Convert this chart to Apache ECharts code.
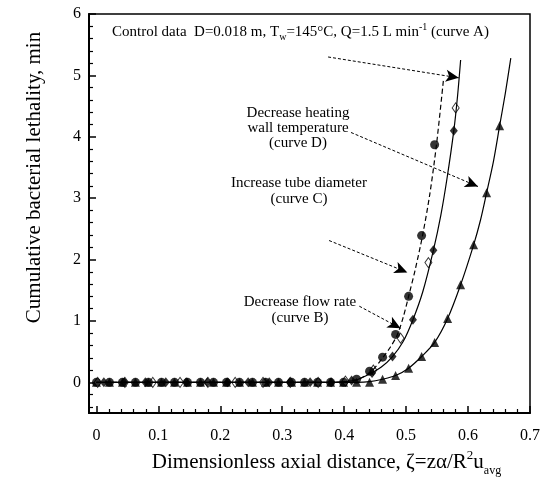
<!DOCTYPE html>
<html><head><meta charset="utf-8">
<script src="https://cdn.jsdelivr.net/npm/echarts@6/dist/echarts.min.js"></script>
<style>html,body{margin:0;padding:0;background:#fff}#c{width:540px;height:491px}</style>
</head><body><div id="c"></div>
<script>
// ---- tick values ----
const xTickLabels = [0, 0.1, 0.2, 0.3, 0.4, 0.5, 0.6, 0.7];
const xMinorTicks = [0.02,0.04,0.06,0.08,0.12,0.14,0.16,0.18,0.22,0.24,0.26,0.28,0.32,0.34,0.36,0.38,0.42,0.44,0.46,0.48,0.52,0.54,0.56,0.58,0.62,0.64,0.66,0.68];
const yTickLabels = [0, 1, 2, 3, 4, 5, 6];
const yMinorTicks = [-0.4,-0.2,0.2,0.4,0.6,0.8,1.2,1.4,1.6,1.8,2.2,2.4,2.6,2.8,3.2,3.4,3.6,3.8,4.2,4.4,4.6,4.8,5.2,5.4,5.6,5.8];

// ---- measured points ----
// curve A: control data (filled diamonds)
const curveAx = [0.012,0.045,0.079,0.112,0.145,0.179,0.212,0.245,0.279,0.312,0.345,0.379,0.412,0.445,0.478,0.511,0.544,0.577];
const curveAy = [0,0,0,0,0,0,0,0,0,0,0,0,0.03,0.15,0.42,1.02,2.15,4.10];
// curve B: decrease flow rate (open diamonds)
const curveBx = [0.002,0.046,0.091,0.135,0.18,0.224,0.269,0.313,0.358,0.402,0.447,0.491,0.536,0.58];
const curveBy = [0,0,0,0,0,0,0,0,0,0.02,0.2,0.72,1.95,4.47];
// curve C: increase tube diameter (filled circles)
const curveCx = [0,0.021,0.042,0.063,0.084,0.105,0.126,0.147,0.168,0.189,0.21,0.231,0.252,0.273,0.294,0.315,0.336,0.357,0.378,0.399,0.42,0.441,0.462,0.483,0.504,0.525,0.546];
const curveCy = [0,0,0,0,0,0,0,0,0,0,0,0,0,0,0,0,0,0,0,0,0.05,0.18,0.41,0.78,1.40,2.39,3.87];
// curve D: decrease heating wall temperature (filled triangles)
const curveDx = [0,0.021,0.042,0.063,0.084,0.105,0.126,0.147,0.168,0.189,0.21,0.231,0.252,0.273,0.294,0.315,0.336,0.357,0.378,0.399,0.42,0.441,0.462,0.483,0.504,0.525,0.546,0.567,0.588,0.609,0.63,0.651];
const curveDy = [0,0,0,0,0,0,0,0,0,0,0,0,0,0,0,0,0,0,0,0,0,0.0,0.05,0.11,0.23,0.42,0.65,1.04,1.59,2.24,3.09,4.18];

// ---- fitted curves ----
const fitAx = [0,0.38,0.40,0.42,0.44,0.46,0.478,0.495,0.511,0.527,0.544,0.556,0.566,0.577,0.583,0.588];
const fitAy = [0,0,0.01,0.04,0.13,0.25,0.42,0.66,1.02,1.48,2.15,2.72,3.32,4.10,4.66,5.25];
const fitCx = [0,0.39,0.405,0.423,0.444,0.463,0.475,0.486,0.495,0.504,0.515,0.5265,0.538,0.549,0.5606];
const fitCy = [0,0,0.01,0.05,0.18,0.41,0.58,0.78,1.05,1.40,1.85,2.39,3.05,3.87,4.96];
const fitDx = [0,0.42,0.441,0.462,0.483,0.504,0.525,0.546,0.567,0.588,0.609,0.62,0.63,0.641,0.651,0.66,0.669];
const fitDy = [0,0,0.01,0.05,0.11,0.23,0.42,0.65,1.04,1.59,2.24,2.64,3.09,3.6,4.18,4.7,5.28];

// ---- annotation arrows (start -> tip, data coords) ----
const arrowA = [[0.374,5.30],[0.585,4.96]];
const arrowD = [[0.411,4.07],[0.616,3.19]];
const arrowC = [[0.3756,2.31],[0.502,1.79]];
const arrowB = [[0.4244,1.24],[0.491,0.88]];

const zip = (xs, ys) => xs.map((x, i) => [x, ys[i]]);
const FONT = "'Liberation Serif','Times New Roman',serif";

const chart = echarts.init(document.getElementById('c'), null, {renderer: 'canvas'});

const baseX = {type: 'value', min: -0.012, max: 0.7, position: 'bottom', splitLine: {show: false}};
const baseY = {type: 'value', min: -0.5, max: 6, position: 'left', splitLine: {show: false}};

const arrowLine = (a) => [{coord: a[0], symbol: 'none'}, {coord: a[1], symbol: 'arrow'}];

chart.setOption({
  animation: false,
  backgroundColor: '#fff',
  grid: {left: 89, right: 10, top: 14, bottom: 78, show: true, borderColor: '#000', borderWidth: 1.5, outerBoundsMode: 'none'},
  xAxis: [
    Object.assign({}, baseX, {
      axisLine: {show: true, onZero: false, lineStyle: {color: '#000', width: 2}},
      axisTick: {show: true, inside: true, length: 7, customValues: xTickLabels, lineStyle: {color: '#000', width: 1.5}},
      axisLabel: {show: true, customValues: xTickLabels, margin: 15, color: '#000', fontSize: 16, fontFamily: FONT,
        formatter: v => v === 0 ? '0' : v.toFixed(1)},
      name: 'Dimensionless axial distance, ζ=zα/R{sup|2}u{sub|avg}',
      nameLocation: 'middle', nameGap: 35,
      nameTextStyle: {color: '#000', fontSize: 21, fontFamily: FONT, padding: [0, 0, 0, 34],
        rich: {sup: {fontSize: 13, fontFamily: FONT, color: '#000', padding: [0, 0, 14, 0]},
               sub: {fontSize: 12, fontFamily: FONT, color: '#000', padding: [16, 0, 0, 0]}}}
    }),
    Object.assign({}, baseX, {
      axisLine: {show: false, onZero: false},
      axisTick: {show: true, inside: true, length: 4, customValues: xMinorTicks, lineStyle: {color: '#000', width: 1.2}},
      axisLabel: {show: false}
    })
  ],
  yAxis: [
    Object.assign({}, baseY, {
      axisLine: {show: true, onZero: false, lineStyle: {color: '#000', width: 2}},
      axisTick: {show: true, inside: true, length: 7, customValues: yTickLabels, lineStyle: {color: '#000', width: 1.5}},
      axisLabel: {show: true, customValues: yTickLabels, margin: 8, color: '#000', fontSize: 16, fontFamily: FONT},
      name: 'Cumulative bacterial lethality, min',
      nameLocation: 'middle', nameGap: 44,
      nameTextStyle: {color: '#000', fontSize: 21, fontFamily: FONT, padding: [0, 0, 0, 72]}
    }),
    Object.assign({}, baseY, {
      axisLine: {show: false, onZero: false},
      axisTick: {show: true, inside: true, length: 4, customValues: yMinorTicks, lineStyle: {color: '#000', width: 1.2}},
      axisLabel: {show: false}
    })
  ],
  series: [
    {type: 'line', data: zip(fitAx, fitAy), showSymbol: false, smooth: 0.3,
      lineStyle: {color: '#000', width: 1.2}, silent: true,
      markLine: {silent: true, symbolSize: [9, 13], label: {show: false},
        lineStyle: {color: '#000', width: 1, type: [3, 2]},
        emphasis: {disabled: true},
        data: [arrowLine(arrowA), arrowLine(arrowD), arrowLine(arrowC), arrowLine(arrowB)]}},
    {type: 'line', data: zip(fitCx, fitCy), showSymbol: false, smooth: 0.3,
      lineStyle: {color: '#000', width: 1.2, type: [5, 3]}, silent: true},
    {type: 'line', data: zip(fitDx, fitDy), showSymbol: false, smooth: 0.3,
      lineStyle: {color: '#000', width: 1.2}, silent: true},
    {type: 'scatter', name: 'D', data: zip(curveDx, curveDy), symbol: 'triangle', symbolSize: 9,
      itemStyle: {color: '#000'}},
    {type: 'scatter', name: 'B', data: zip(curveBx, curveBy), symbol: 'diamond', symbolSize: [7, 10],
      itemStyle: {color: '#fff', borderColor: '#000', borderWidth: 1}},
    {type: 'scatter', name: 'A', data: zip(curveAx, curveAy), symbol: 'diamond', symbolSize: [8, 10],
      itemStyle: {color: '#000'}},
    {type: 'scatter', name: 'C', data: zip(curveCx, curveCy), symbol: 'circle', symbolSize: 9,
      itemStyle: {color: '#000'}}
  ],
  graphic: [
    {type: 'text', x: 112, y: 32, silent: true, style: {
      text: 'Control data  D=0.018 m, T{sub|w}=145°C, Q=1.5 L min{sup|-1} (curve A)',
      fill: '#000', font: '15px ' + FONT, verticalAlign: 'middle', align: 'left',
      rich: {sub: {fontSize: 10, fontFamily: FONT, fill: '#000', padding: [11, 0, 0, 0]},
             sup: {fontSize: 10, fontFamily: FONT, fill: '#000', padding: [0, 0, 10, 0]}}}},
    {type: 'text', x: 298, y: 128, silent: true, style: {
      text: 'Decrease heating\nwall temperature\n(curve D)', fill: '#000', font: '15px ' + FONT,
      align: 'center', verticalAlign: 'middle', lineHeight: 15}},
    {type: 'text', x: 299, y: 191, silent: true, style: {
      text: 'Increase tube diameter\n(curve C)', fill: '#000', font: '15px ' + FONT,
      align: 'center', verticalAlign: 'middle', lineHeight: 16}},
    {type: 'text', x: 300, y: 310, silent: true, style: {
      text: 'Decrease flow rate\n(curve B)', fill: '#000', font: '15px ' + FONT,
      align: 'center', verticalAlign: 'middle', lineHeight: 16}}
  ]
});
</script>
</body></html>
